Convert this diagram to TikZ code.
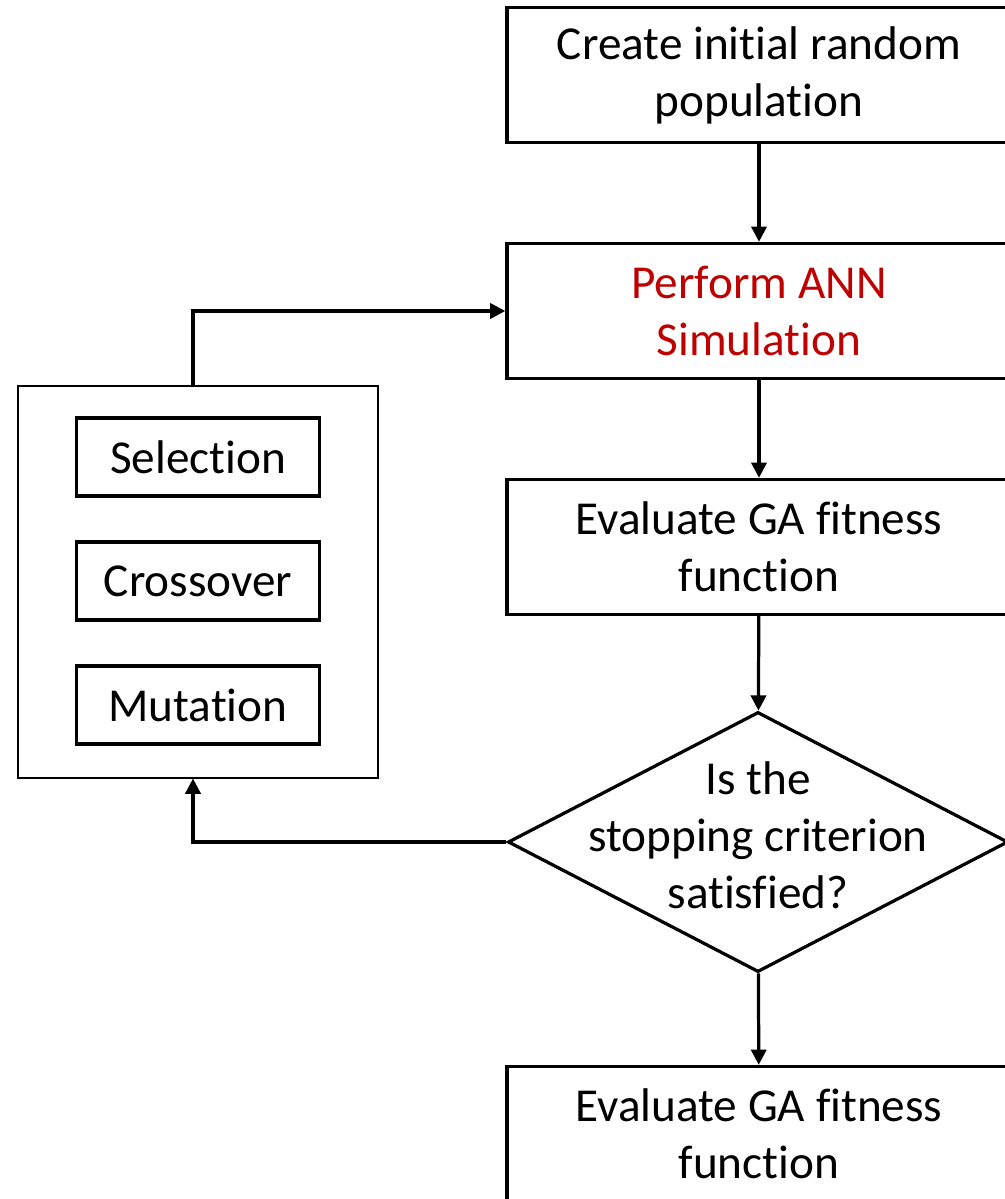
\documentclass[tikz,border=0pt]{standalone}
\usepackage{fontspec}
\setmainfont{Carlito}[Ligatures={NoCommon,NoRequired,NoContextual,NoRare},Contextuals=NoAlternate]
\usetikzlibrary{shapes.geometric,arrows.meta}
\begin{document}
\begin{tikzpicture}
[x=0.025cm,y=-0.025cm,
  textDecorate/.style={font=\fontsize{33.6}{40.5}\selectfont,align=center},%
  boxDecorate/.style={shape=rectangle,draw,line width=2.3pt,inner sep=0pt,
    minimum width=12.6cm,minimum height=3.38cm,textDecorate},%
  stageDecorate/.style={shape=rectangle,draw,line width=2.3pt,inner sep=0pt,
    minimum width=6.08cm,minimum height=1.95cm,textDecorate},%
  groupDecorate/.style={shape=rectangle,draw,line width=1.3pt,inner sep=0pt,
    minimum width=9cm,minimum height=9.78cm},%
  decisionDecorate/.style={shape=diamond,draw,line width=2.3pt,inner sep=0pt,
    minimum width=12.5cm,minimum height=6.5cm},%
  lineDecorate/.style={-{Triangle[length=0.38cm,width=0.38cm]},line width=2.3pt}]
\path[use as bounding box,clip] (0,0) rectangle (1005,1199);
%% main column
\foreach \nodename/\y/\colour/\caption in {
  create/75/black/{Create initial random\\population},
  perform/311/red!75!black/{Perform ANN\\Simulation},
  evaluate/547/black/{Evaluate GA fitness\\function},
  result/1134/black/{Evaluate GA fitness\\function}}
{
  \node (\nodename) at (759,\y) [boxDecorate,text=\colour] {\caption};
}
\node (check) at (758,842) [decisionDecorate,
  label={[textDecorate,yshift=0.175cm]center:Is the\\stopping criterion\\satisfied?}] {};
%% genetic operators
\node (ops) at (198,582) [groupDecorate] {};
\foreach \nodename/\y/\caption in {
  selection/457/Selection, crossover/581/Crossover, mutation/705/Mutation}
{
  \node (\nodename) at (198,\y) [stageDecorate] {\caption};
}
%% arrows
\path
\foreach \startnode/\endnode in {
  create/perform, perform/evaluate, evaluate/check, check/result}
{
  (\startnode) edge[lineDecorate] (\endnode)
};
\draw[lineDecorate] (check.west) -| ([xshift=-0.125cm]ops.south);
\draw[lineDecorate] ([xshift=-0.125cm]ops.north) |- (perform.west);
\end{tikzpicture}
\end{document}
